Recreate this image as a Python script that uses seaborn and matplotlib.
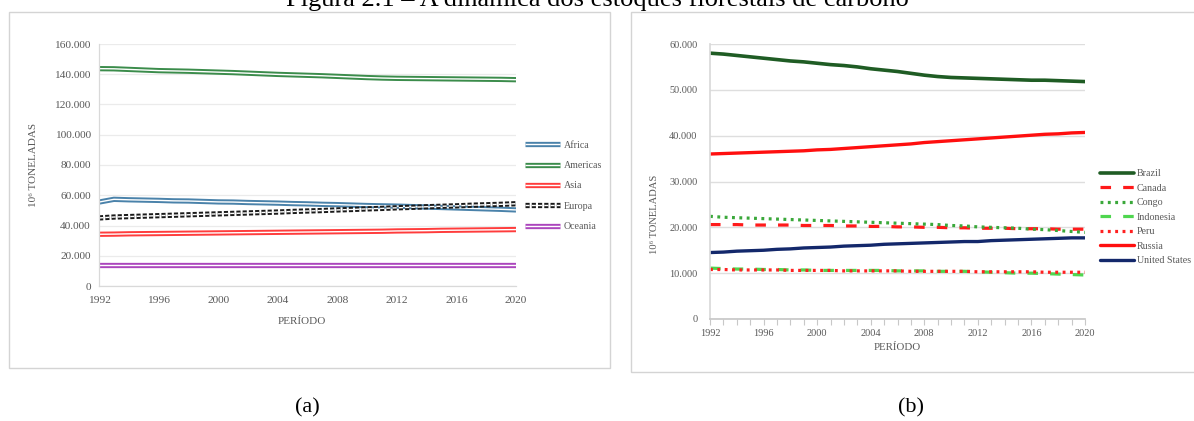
import numpy as np
import matplotlib
matplotlib.use("Agg")
import matplotlib.pyplot as plt
import matplotlib.patheffects as pe
from matplotlib.patches import Rectangle
from matplotlib.ticker import FuncFormatter
import seaborn as sns

years = list(range(1992, 2021))

# (a) forest carbon stock by region, thousands of 10^6 t
africa = [55.5, 57.3, 57.0, 56.8, 56.6, 56.3, 56.2, 55.9, 55.6, 55.5, 55.2, 55.0, 54.8, 54.5, 54.3,
          54.0, 53.8, 53.5, 53.2, 53.0, 52.8, 52.5, 52.2, 51.9, 51.6, 51.3, 51.0, 50.7, 50.3]
americas = [143.7, 143.6, 143.2, 142.8, 142.4, 142.2, 142.0, 141.7, 141.4, 141.1, 140.7, 140.3, 139.9,
            139.6, 139.3, 139.0, 138.6, 138.2, 137.8, 137.5, 137.3, 137.2, 137.1, 137.0, 136.9, 136.8,
            136.7, 136.6, 136.4]
asia = [34.2, 34.3, 34.5, 34.6, 34.7, 34.8, 34.9, 35.0, 35.1, 35.2, 35.3, 35.4, 35.5, 35.6, 35.7,
        35.8, 35.9, 36.0, 36.1, 36.2, 36.4, 36.5, 36.6, 36.8, 36.9, 37.0, 37.1, 37.2, 37.3]
europa = [45.0, 45.6, 45.9, 46.2, 46.5, 46.8, 47.1, 47.4, 47.7, 48.0, 48.3, 48.6, 48.9, 49.3, 49.6,
          49.9, 50.3, 50.6, 51.0, 51.3, 51.7, 52.0, 52.4, 52.7, 53.0, 53.4, 53.7, 54.0, 54.4]
oceania = [13.9, 13.9, 13.9, 13.9, 13.9, 13.9, 13.9, 13.9, 13.9, 13.9, 13.9, 13.9, 13.9, 13.9, 13.9,
           13.9, 13.9, 13.9, 13.9, 13.9, 13.9, 13.9, 13.9, 13.9, 13.9, 13.9, 13.9, 13.9, 13.9]

# (b) forest carbon stock by country, thousands of 10^6 t
brazil = [58.0, 57.8, 57.5, 57.2, 56.9, 56.6, 56.3, 56.1, 55.8, 55.5, 55.3, 55.0, 54.6, 54.3, 54.0,
          53.6, 53.2, 52.9, 52.7, 52.6, 52.5, 52.4, 52.3, 52.2, 52.1, 52.1, 52.0, 51.9, 51.8]
canada = [20.6, 20.6, 20.6, 20.5, 20.5, 20.5, 20.5, 20.4, 20.4, 20.4, 20.3, 20.3, 20.2, 20.2, 20.1,
          20.1, 20.0, 20.0, 19.9, 19.9, 19.8, 19.8, 19.8, 19.7, 19.7, 19.7, 19.6, 19.6, 19.6]
congo = [22.4, 22.2, 22.1, 22.0, 21.9, 21.8, 21.7, 21.6, 21.5, 21.4, 21.3, 21.2, 21.1, 21.0, 20.9,
         20.8, 20.7, 20.6, 20.4, 20.3, 20.1, 20.0, 19.9, 19.8, 19.6, 19.5, 19.3, 19.1, 18.9]
indonesia = [11.1, 11.0, 10.9, 10.9, 10.8, 10.8, 10.7, 10.7, 10.6, 10.6, 10.6, 10.6, 10.6, 10.6, 10.5,
             10.5, 10.5, 10.4, 10.4, 10.4, 10.3, 10.2, 10.1, 10.0, 10.0, 9.9, 9.8, 9.7, 9.6]
peru = [10.8, 10.8, 10.7, 10.7, 10.7, 10.7, 10.6, 10.6, 10.6, 10.6, 10.5, 10.5, 10.5, 10.5, 10.5,
        10.4, 10.4, 10.4, 10.4, 10.4, 10.3, 10.3, 10.3, 10.3, 10.3, 10.2, 10.2, 10.2, 10.2]
russia = [36.0, 36.1, 36.2, 36.3, 36.4, 36.5, 36.6, 36.7, 36.9, 37.0, 37.2, 37.4, 37.6, 37.8, 38.0,
          38.2, 38.5, 38.7, 38.9, 39.1, 39.3, 39.5, 39.7, 39.9, 40.1, 40.3, 40.4, 40.6, 40.7]
united_states = [14.5, 14.6, 14.8, 14.9, 15.0, 15.2, 15.3, 15.5, 15.6, 15.7, 15.9, 16.0, 16.1, 16.3,
                 16.4, 16.5, 16.6, 16.7, 16.8, 16.9, 16.9, 17.1, 17.2, 17.3, 17.4, 17.5, 17.6, 17.7, 17.7]

x_ticks = [1992, 1996, 2000, 2004, 2008, 2012, 2016, 2020]

sns.set_theme(style="white")
plt.rcParams['font.family'] = ['Liberation Serif', 'DejaVu Serif']

W, H = 1194, 421
fig = plt.figure(figsize=(W / 100, H / 100), dpi=100)
fig.patch.set_facecolor("white")

GRAY_TXT = "#595959"


def fx(px):
    return px / W


def fy(py):
    return 1 - py / H


# panel frames
fig.add_artist(Rectangle((fx(9), fy(368)), fx(610 - 9), (368 - 12) / H, transform=fig.transFigure,
                         fill=False, edgecolor="#d4d4d4", lw=1.0))
fig.add_artist(Rectangle((fx(631), fy(372)), fx(1194 - 631 + 20), (372 - 12) / H,
                         transform=fig.transFigure, fill=False, edgecolor="#d4d4d4", lw=1.0))

thousands = FuncFormatter(lambda v, _: f"{int(round(v)):,}".replace(",", "."))

# ---------------- (a) regions: double-stroke lines ----------------
ax_a = fig.add_axes([fx(99), fy(286), fx(516 - 99), (286 - 44) / H])
series_a = [
    ("Africa", africa, "#4a82aa", "-"),
    ("Americas", americas, "#3b8c4b", "-"),
    ("Asia", asia, "#ff3c3c", "-"),
    ("Europa", europa, "#1a1a1a", (0, (3.0, 1.5))),
    ("Oceania", oceania, "#ab45bd", "-"),
]
for name, vals, col, ls in series_a:
    sns.lineplot(x=years, y=np.array(vals) * 1000, ax=ax_a, color="white", linewidth=1.0,
                 linestyle=ls, label=name, errorbar=None, legend=False,
                 solid_capstyle="butt", dash_capstyle="butt")
    ax_a.lines[-1].set_path_effects([pe.Stroke(linewidth=3.8, foreground=col), pe.Normal()])

ax_a.set_xlim(1992, 2020)
ax_a.set_ylim(0, 160000)
ax_a.set_yticks(range(0, 160001, 20000))
ax_a.set_xticks(x_ticks)
ax_a.yaxis.set_major_formatter(thousands)
ax_a.yaxis.grid(True, color="#ebebeb", lw=0.9)
ax_a.set_axisbelow(True)
ax_a.tick_params(axis="both", length=0, labelsize=8.2, labelcolor=GRAY_TXT)
ax_a.tick_params(axis="y", pad=6)
ax_a.tick_params(axis="x", pad=7)
for s in ["top", "right"]:
    ax_a.spines[s].set_visible(False)
for s in ["left", "bottom"]:
    ax_a.spines[s].set_color("#d9d9d9")
    ax_a.spines[s].set_linewidth(0.9)
ax_a.set_xlabel("")
ax_a.set_ylabel("")

h, l = ax_a.get_legend_handles_labels()
ax_a.legend(h, l, loc="center left", bbox_to_anchor=(fx(525), fy(186)), bbox_transform=fig.transFigure,
            frameon=False, borderpad=0, borderaxespad=0, handlelength=3.5, handletextpad=0.4,
            labelspacing=1.13, prop={"size": 7.2}, labelcolor=GRAY_TXT)

fig.text(fx(33), fy(165), "10⁶ TONELADAS", rotation=90, ha="center", va="center", fontsize=8,
         color=GRAY_TXT)
fig.text(fx(302), fy(321), "PERÍODO", ha="center", va="center", fontsize=8, color=GRAY_TXT)

# ---------------- (b) countries ----------------
ax_b = fig.add_axes([fx(710), fy(319), fx(1085 - 710), (319 - 44) / H])
series_b = [
    ("Brazil", brazil, "#1f5c24", "-", 2.6),
    ("Canada", canada, "#ff1a1a", (0, (3.3, 3.8)), 2.3),
    ("Congo", congo, "#3aa83a", (0, (0.9, 1.4)), 2.3),
    ("Indonesia", indonesia, "#4fd64f", (0, (3.3, 3.8)), 2.3),
    ("Peru", peru, "#ff2020", (0, (0.9, 1.4)), 2.3),
    ("Russia", russia, "#ff0f0f", "-", 2.4),
    ("United States", united_states, "#13286b", "-", 2.4),
]
for name, vals, col, ls, lw in series_b:
    sns.lineplot(x=years, y=np.array(vals) * 1000, ax=ax_b, color=col, linewidth=lw,
                 linestyle=ls, label=name, errorbar=None, legend=False)

ax_b.set_xlim(1992, 2020)
ax_b.set_ylim(0, 60000)
ax_b.set_yticks(range(0, 60001, 10000))
ax_b.set_xticks(x_ticks)
ax_b.set_xticks(years, minor=True)
ax_b.yaxis.set_major_formatter(thousands)
ax_b.yaxis.grid(True, color="#dedede", lw=1.0)
ax_b.set_axisbelow(True)
ax_b.tick_params(axis="y", length=0, labelsize=7.4, labelcolor=GRAY_TXT, pad=9)
ax_b.tick_params(axis="x", which="both", length=4, width=0.8, color="#c8c8c8", direction="out",
                 labelsize=7.4, labelcolor=GRAY_TXT, pad=3, bottom=True)
for s in ["top", "right"]:
    ax_b.spines[s].set_visible(False)
ax_b.spines["left"].set_color("#d9d9d9")
ax_b.spines["bottom"].set_color("#c8c8c8")
ax_b.set_xlabel("")
ax_b.set_ylabel("")

h, l = ax_b.get_legend_handles_labels()
ax_b.legend(h, l, loc="center left", bbox_to_anchor=(fx(1100), fy(217)), bbox_transform=fig.transFigure,
            frameon=False, borderpad=0, borderaxespad=0, handlelength=3.4, handletextpad=0.3,
            labelspacing=0.55, prop={"size": 7.2}, labelcolor=GRAY_TXT)

fig.text(fx(655), fy(214), "10⁶ TONELADAS", rotation=90, ha="center", va="center", fontsize=7.6,
         color=GRAY_TXT)
fig.text(fx(897), fy(347), "PERÍODO", ha="center", va="center", fontsize=7.8, color=GRAY_TXT)

# figure title (running past the top edge) and panel captions
fig.text(0.5, fy(6), "Figura 2.1 – A dinâmica dos estoques florestais de carbono", ha="center",
         va="baseline", fontsize=19, color="black")
fig.text(fx(307), fy(408), "(a)", ha="center", va="center", fontsize=16, color="black")
fig.text(fx(911), fy(408), "(b)", ha="center", va="center", fontsize=16, color="black")

fig.savefig("out.png", dpi=100)
